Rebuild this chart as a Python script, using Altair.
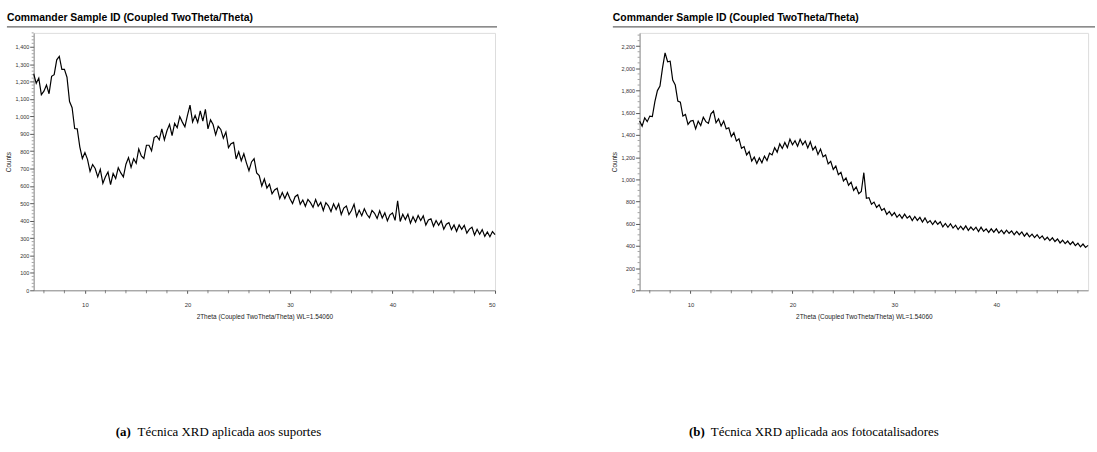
import altair as alt
import numpy as np
import pandas as pd

# ---------------- data ----------------
theta_a = np.round(np.arange(5.0, 50.0001, 0.25), 2).tolist()
counts_a = [
    1245, 1190, 1220, 1125, 1145, 1180, 1130, 1230,   # 5-6.75
    1240, 1325, 1345, 1270, 1270, 1225, 1085, 1050,   # 7-8.75
    930, 928, 825, 758, 792, 753, 684, 723,           # 9-10.75
    700, 652, 695, 615, 653, 680, 607, 671,           # 11-12.75
    642, 705, 675, 652, 725, 763, 707, 756,           # 13-14.75
    730, 813, 773, 758, 834, 834, 802, 878,           # 15-16.75
    887, 865, 928, 865, 917, 954, 890, 960,           # 17-18.75
    935, 999, 967, 940, 1006, 1065, 968, 1005,        # 19-20.75
    965, 1031, 973, 1040, 928, 980, 953, 894,         # 21-22.75
    943, 925, 875, 910, 820, 843, 850, 755,           # 23-24.75
    797, 745, 785, 733, 688, 738, 757, 675,           # 25-26.75
    660, 600, 640, 588, 610, 555, 577, 587,           # 27-28.75
    527, 562, 528, 562, 526, 499, 538, 549,           # 29-30.75
    495, 519, 483, 523, 504, 477, 522, 483,           # 31-32.75
    505, 459, 504, 486, 453, 497, 464, 497,           # 33-34.75
    436, 473, 485, 435, 459, 495, 425, 461,           # 35-36.75
    429, 469, 437, 417, 459, 443, 413, 457,           # 37-38.75
    416, 445, 400, 434, 445, 402, 515, 396,           # 39-40.75
    437, 407, 438, 386, 423, 393, 430, 401,           # 41-42.75
    428, 375, 404, 411, 368, 401, 374, 400,           # 43-44.75
    351, 380, 389, 349, 376, 339, 376, 351,           # 45-46.75
    374, 329, 352, 363, 318, 351, 322, 349,           # 47-48.75
    310, 336, 308, 338, 320,                          # 49-50
]

theta_b = np.round(np.arange(5.0, 49.0001, 0.25), 2).tolist()
counts_b = [
    1525, 1480, 1555, 1520, 1570, 1565, 1700, 1800,   # 5-6.75
    1840, 2005, 2140, 2060, 2065, 1895, 1850, 1705,   # 7-8.75
    1695, 1570, 1585, 1495, 1525, 1530, 1455, 1525,   # 9-10.75
    1485, 1560, 1520, 1505, 1590, 1615, 1510, 1545,   # 11-12.75
    1480, 1525, 1455, 1465, 1385, 1420, 1345, 1365,   # 13-14.75
    1280, 1295, 1220, 1250, 1165, 1200, 1142, 1193,   # 15-16.75
    1150, 1210, 1170, 1235, 1220, 1285, 1245, 1320,   # 17-18.75
    1278, 1333, 1286, 1362, 1311, 1348, 1298, 1361,   # 19-20.75
    1312, 1346, 1283, 1338, 1265, 1295, 1225, 1273,   # 21-22.75
    1203, 1220, 1140, 1163, 1090, 1120, 1043, 1063,   # 23-24.75
    985, 1013, 947, 975, 900, 932, 870, 890,          # 25-26.75
    1060, 830, 835, 775, 795, 747, 770, 720,          # 27-28.75
    738, 685, 711, 673, 700, 658, 684, 648,           # 29-30.75
    686, 650, 670, 629, 665, 630, 657, 615,           # 31-32.75
    653, 608, 628, 593, 626, 595, 618, 571,           # 33-34.75
    602, 568, 600, 561, 587, 548, 578, 547,           # 35-36.75
    581, 540, 570, 542, 569, 529, 569, 531,           # 37-38.75
    554, 522, 554, 524, 554, 516, 542, 510,           # 39-40.75
    542, 514, 536, 501, 531, 501, 526, 488,           # 41-42.75
    516, 482, 506, 475, 501, 468, 490, 455,           # 43-44.75
    478, 448, 473, 440, 462, 427, 451, 420,           # 45-46.75
    444, 413, 437, 403, 424, 392, 417, 387,           # 47-48.75
    405,                                              # 49
]

x_major_a = [10, 20, 30, 40, 50]
x_major_b = [10, 20, 30, 40]
x_minor_a = [6, 8, 12, 14, 16, 18, 22, 24, 26, 28, 32, 34, 36, 38, 42, 44, 46, 48]
x_minor_b = [6, 8, 12, 14, 16, 18, 22, 24, 26, 28, 32, 34, 36, 38, 42, 44, 46, 48]
y_major_a = list(range(0, 1401, 100))
y_minor_a = [v for v in range(0, 1481, 20) if v % 100 != 0]
y_major_b = list(range(0, 2201, 200))
y_minor_b = [v for v in range(0, 2301, 50) if v % 200 != 0]

chart_title = "Commander Sample ID (Coupled TwoTheta/Theta)"
x_title = "2Theta (Coupled TwoTheta/Theta) WL=1.54060"
y_title = "Counts"
cap_label_a, cap_text_a = "(a)", "Técnica XRD aplicada aos suportes"
cap_label_b, cap_text_b = "(b)", "Técnica XRD aplicada aos fotocatalisadores"

SANS = "Liberation Sans"
SERIF = "Liberation Serif"
H = 260


def panel(xs, ys, xdom, ydom, xmaj, xmin, ymaj, ymin, w, rule_end, cap_x, cap_label, cap_text):
    df = pd.DataFrame({"x": xs, "y": ys})
    xs_ = alt.Scale(domain=xdom, nice=False, zero=False)
    ys_ = alt.Scale(domain=ydom, nice=False, zero=False)
    x_axis = alt.Axis(
        values=xmaj, title=x_title, grid=False, tickSize=3,
        tickColor="#555", domainColor="#777", domainWidth=0.8, labelOverlap=False,
        labelFont=SANS, labelFontSize=6, labelColor="#333", labelPadding=8,
        titleFont=SANS, titleFontSize=6.5, titleFontWeight="normal",
        titleColor="#222", titlePadding=6)
    y_axis = alt.Axis(
        values=ymaj, format=",d", title=y_title, grid=False, tickSize=4,
        tickColor="#555", domainColor="#777", domainWidth=0.8, labelOverlap=False,
        labelFont=SANS, labelFontSize=5.5, labelColor="#333", labelPadding=1,
        titleFont=SANS, titleFontSize=6.5, titleFontWeight="normal",
        titleColor="#222", titlePadding=4)
    line = alt.Chart(df).mark_line(color="black", strokeWidth=1.2).encode(
        x=alt.X("x:Q", scale=xs_, axis=x_axis),
        y=alt.Y("y:Q", scale=ys_, axis=y_axis),
    )
    xminor = alt.Chart(pd.DataFrame({"x": xmin})).mark_rule(color="#555", strokeWidth=0.7).encode(
        x=alt.X("x:Q", scale=xs_, axis=x_axis), y=alt.value(H), y2=alt.value(H + 3))
    yminor = alt.Chart(pd.DataFrame({"y": ymin})).mark_rule(color="#666", strokeWidth=0.6).encode(
        y=alt.Y("y:Q", scale=ys_, axis=y_axis), x=alt.value(0), x2=alt.value(-2))
    title = alt.Chart(pd.DataFrame({"t": [chart_title]})).mark_text(
        font=SANS, fontSize=10.5, fontWeight="bold", align="left", baseline="alphabetic", color="black"
    ).encode(text="t:N", x=alt.value(-27), y=alt.value(-12))
    rule = alt.Chart(pd.DataFrame({"t": [0]})).mark_rule(color="#666", strokeWidth=1.2).encode(
        x=alt.value(-27), x2=alt.value(rule_end), y=alt.value(-6))
    lab = alt.Chart(pd.DataFrame({"t": [cap_label]})).mark_text(
        font=SERIF, fontSize=13, fontWeight="bold", align="left", baseline="alphabetic", color="black"
    ).encode(text="t:N", x=alt.value(cap_x), y=alt.value(407))
    txt = alt.Chart(pd.DataFrame({"t": [cap_text]})).mark_text(
        font=SERIF, fontSize=13, align="left", baseline="alphabetic", color="black"
    ).encode(text="t:N", x=alt.value(cap_x + 22), y=alt.value(407))
    return alt.layer(line, xminor, yminor, rule, title, lab, txt).properties(width=w, height=H)


pa = panel(theta_a, counts_a, [5, 50], [0, 1480], x_major_a, x_minor_a, y_major_a, y_minor_a,
           466, 468, 83, cap_label_a, cap_text_a)
pb = panel(theta_b, counts_b, [5, 49], [0, 2320], x_major_b, x_minor_b, y_major_b, y_minor_b,
           453, 460, 50, cap_label_b, cap_text_b)

chart = alt.hconcat(pa, pb, spacing=146, bounds="flush").properties(
    padding={"left": 4, "top": 10, "right": 0, "bottom": 0}
).configure_view(stroke=None).configure(background="white")

chart.save("out.html", embed_options={"renderer": "svg", "actions": False})
